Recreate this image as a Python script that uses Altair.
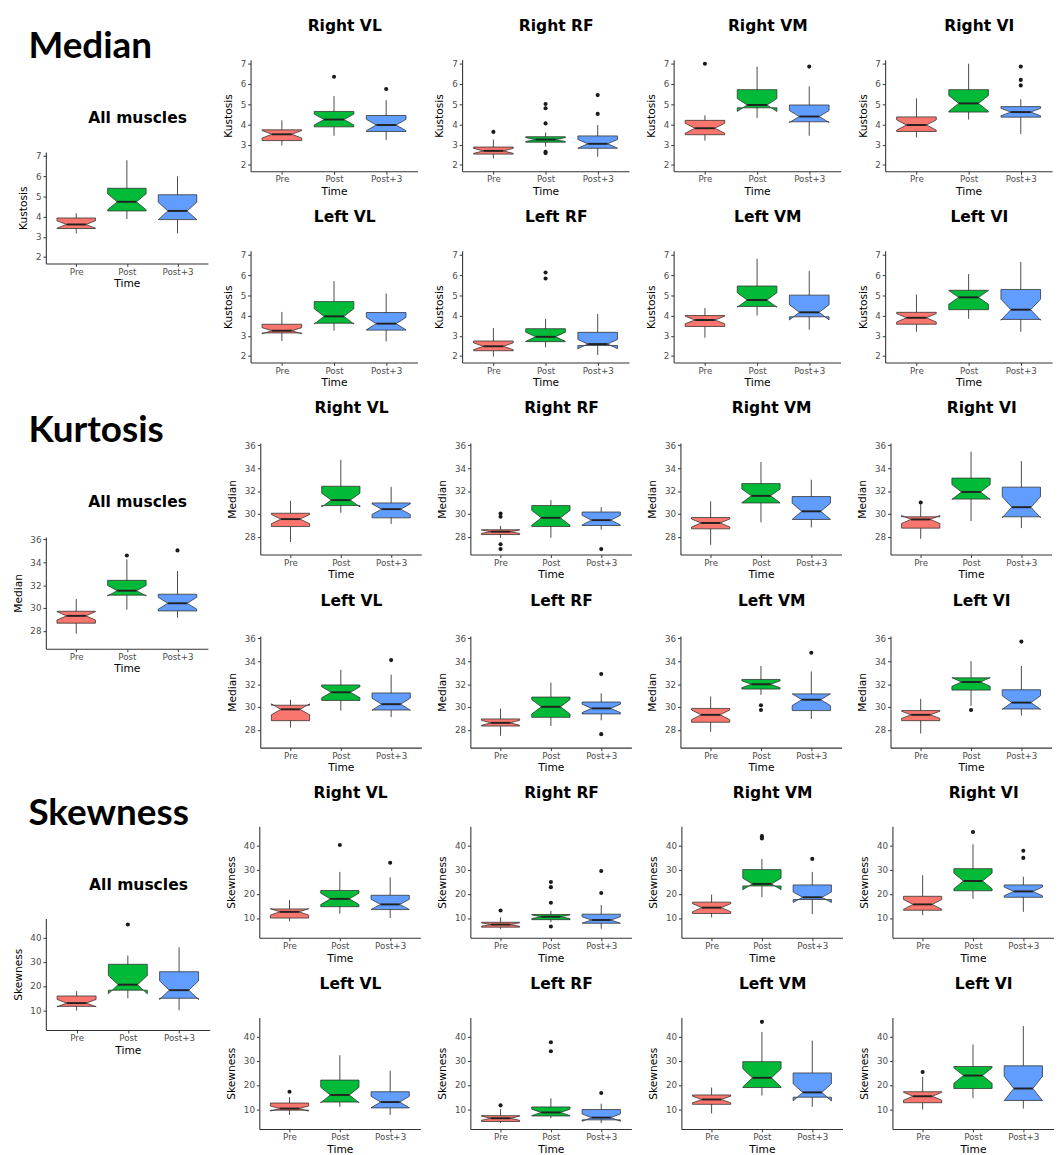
import math
import altair as alt
import pandas as pd

TIMES = ["Pre", "Post", "Post+3"]
FILLS = ["#F8766D", "#00BA38", "#619CFF"]
SECTIONS = ["Median", "Kurtosis", "Skewness"]
Y_TITLES = ["Kustosis", "Median", "Skewness"]
Y_TICKS = [[2, 3, 4, 5, 6, 7], [28, 30, 32, 34, 36], [10, 20, 30, 40]]
Y_DOMAINS = [[1.68, 7.2], [26.45, 36.2], [1.8, 48.0]]
PANELS = ["All muscles", "Right VL", "Right RF", "Right VM", "Right VI",
          "Left VL", "Left RF", "Left VM", "Left VI"]
N_OBS = 20  # observations per box, used for the notch (median +/- 1.58*IQR/sqrt(n))

# (lower whisker, Q1, median, Q3, upper whisker) for Pre, Post, Post+3
median_boxes = {
    "All muscles": [(3.17, 3.41, 3.61, 3.93, 4.17), (3.88, 4.28, 4.73, 5.40, 6.79), (3.17, 3.85, 4.28, 5.08, 5.99)],
    "Right VL": [(2.96, 3.20, 3.51, 3.73, 4.20), (3.44, 3.88, 4.24, 4.64, 5.40), (3.23, 3.65, 3.97, 4.44, 5.20)],
    "Right RF": [(2.32, 2.53, 2.69, 2.88, 3.25), (2.91, 3.12, 3.25, 3.39, 3.60), (2.40, 2.82, 3.04, 3.43, 3.97)],
    "Right VM": [(3.20, 3.49, 3.81, 4.20, 4.45), (4.32, 4.82, 4.96, 5.72, 6.86), (3.44, 4.13, 4.39, 4.96, 5.88)],
    "Right VI": [(3.36, 3.65, 3.97, 4.37, 5.29), (4.24, 4.61, 5.04, 5.72, 7.00), (3.52, 4.36, 4.61, 4.88, 5.24)],
    "Left VL": [(2.74, 3.14, 3.25, 3.57, 4.18), (3.25, 3.62, 3.96, 4.69, 5.70), (2.72, 3.28, 3.60, 4.15, 5.09)],
    "Left RF": [(1.97, 2.26, 2.48, 2.74, 3.38), (2.43, 2.71, 2.95, 3.35, 3.84), (2.05, 2.52, 2.59, 3.17, 4.08)],
    "Left VM": [(2.90, 3.46, 3.78, 4.00, 4.37), (4.00, 4.45, 4.77, 5.46, 6.81), (3.30, 3.94, 4.16, 5.01, 6.21)],
    "Left VI": [(3.20, 3.57, 3.89, 4.16, 5.04), (3.84, 4.29, 4.90, 5.25, 6.05), (3.20, 3.81, 4.29, 5.29, 6.65)],
}
median_outliers = {
    "Right VL": [[], [6.36], [5.75]],
    "Right RF": [[3.63], [5.01, 4.80, 4.05, 2.64, 2.58], [5.45, 4.52]],
    "Right VM": [[7.00], [], [6.86]],
    "Right VI": [[], [], [6.86, 6.20, 5.93]],
    "Left RF": [[], [6.13, 5.83], []],
}

kurtosis_boxes = {
    "All muscles": [(27.77, 28.68, 29.32, 29.72, 30.79), (29.86, 31.13, 31.52, 32.42, 34.25), (29.15, 29.75, 30.42, 31.21, 33.24)],
    "Right VL": [(27.55, 28.90, 29.55, 30.06, 31.15), (30.10, 30.73, 31.21, 32.42, 34.73), (29.13, 29.66, 30.42, 30.96, 32.37)],
    "Right RF": [(27.92, 28.20, 28.45, 28.62, 28.96), (27.92, 28.90, 29.66, 30.73, 31.21), (28.62, 28.99, 29.46, 30.17, 30.59)],
    "Right VM": [(27.30, 28.70, 29.21, 29.69, 31.10), (29.27, 30.96, 31.58, 32.65, 34.54), (28.82, 29.52, 30.23, 31.52, 32.99)],
    "Right VI": [(27.83, 28.76, 29.52, 29.75, 30.85), (29.38, 31.30, 31.92, 33.13, 35.44), (28.76, 29.75, 30.59, 32.34, 34.62)],
    "Left VL": [(28.20, 28.81, 29.80, 30.16, 30.64), (29.69, 30.58, 31.29, 31.93, 33.25), (29.12, 29.74, 30.25, 31.23, 32.83)],
    "Left RF": [(27.49, 28.34, 28.62, 28.96, 29.88), (28.34, 29.10, 30.02, 30.87, 32.13), (28.84, 29.40, 29.88, 30.44, 31.20)],
    "Left VM": [(27.83, 28.67, 29.32, 29.88, 30.92), (31.06, 31.57, 31.99, 32.41, 33.59), (28.96, 29.69, 30.64, 31.15, 33.11)],
    "Left VI": [(27.69, 28.81, 29.32, 29.69, 30.72), (30.10, 31.48, 32.19, 32.55, 34.01), (29.26, 29.83, 30.39, 31.51, 33.59)],
}
kurtosis_outliers = {
    "All muscles": [[], [34.59], [35.04]],
    "Right RF": [[30.03, 29.75, 27.35, 26.93], [], [26.93]],
    "Right VI": [[31.00], [], []],
    "Left VL": [[], [], [34.10]],
    "Left RF": [[], [], [32.89, 27.63]],
    "Left VM": [[], [30.16, 29.74], [34.74]],
    "Left VI": [[], [29.74], [35.72]],
}

skewness_boxes = {
    "All muscles": [(9.87, 11.60, 12.95, 15.89, 17.90), (14.96, 18.30, 20.58, 29.02, 32.63), (10.00, 14.96, 18.30, 25.94, 36.11)],
    "Right VL": [(8.65, 10.00, 12.56, 13.77, 17.40), (11.88, 14.70, 17.94, 21.40, 29.10), (10.00, 13.50, 15.65, 19.42, 26.82)],
    "Right RF": [(5.43, 6.23, 7.30, 8.25, 10.27), (8.25, 9.33, 10.54, 11.48, 12.96), (5.56, 7.85, 9.19, 11.60, 15.38)],
    "Right VM": [(10.27, 11.88, 14.30, 16.59, 19.69), (18.60, 23.30, 24.13, 30.05, 34.49), (11.61, 17.67, 18.60, 23.72, 29.10)],
    "Right VI": [(11.20, 13.23, 15.65, 19.00, 27.76), (17.94, 21.30, 25.34, 30.45, 40.54), (12.56, 18.60, 21.03, 23.72, 27.09)],
    "Left VL": [(7.59, 9.60, 10.27, 12.54, 14.96), (10.94, 12.95, 15.89, 22.05, 32.36), (7.59, 10.54, 12.95, 17.23, 25.94)],
    "Left RF": [(4.24, 4.91, 6.25, 7.32, 10.00), (6.25, 7.19, 8.66, 10.94, 14.55), (4.24, 5.58, 6.52, 9.87, 12.28)],
    "Left VM": [(8.26, 12.01, 14.02, 15.89, 18.97), (15.62, 18.97, 22.99, 29.69, 42.00), (10.94, 14.96, 16.96, 25.00, 38.39)],
    "Left VI": [(9.87, 12.68, 15.36, 17.23, 23.39), (14.55, 18.57, 23.93, 27.68, 36.78), (10.27, 13.62, 18.57, 27.95, 44.42)],
}
skewness_outliers = {
    "All muscles": [[], [45.50], []],
    "Right VL": [[], [40.27], [32.87]],
    "Right RF": [[13.10], [24.93, 22.78, 16.32, 6.50], [29.50, 20.36]],
    "Right VM": [[], [43.90, 42.96], [34.49]],
    "Right VI": [[], [45.65], [37.85, 34.89]],
    "Left VL": [[17.23], [], []],
    "Left RF": [[11.60], [37.72, 33.97], [16.70]],
    "Left VM": [[], [46.16], []],
    "Left VI": [[25.40], [], []],
}

ALL_BOXES = [median_boxes, kurtosis_boxes, skewness_boxes]
ALL_OUTLIERS = [median_outliers, kurtosis_outliers, skewness_outliers]

HALF_W = 0.38      # half box width (category units)
NOTCH_W = 0.5      # ggplot notchwidth
FONT = "DejaVu Sans"
LABEL_EXPR = "[" + ",".join("'%s'" % t for t in TIMES) + "][datum.value - 1]"


def build_frames(boxes, outliers):
    stats, poly, outs = [], [], []
    for i, (wl, q1, md, q3, wh) in enumerate(boxes):
        c = i + 1
        notch = 1.58 * (q3 - q1) / math.sqrt(N_OBS)
        nl, nh = md - notch, md + notch
        iw = HALF_W * NOTCH_W
        stats.append(dict(pos=c, wl=wl, wh=wh, med=md, mx1=c - iw, mx2=c + iw))
        pts = [(c - HALF_W, q3), (c - HALF_W, nh), (c - iw, md), (c - HALF_W, nl), (c - HALF_W, q1),
               (c + HALF_W, q1), (c + HALF_W, nl), (c + iw, md), (c + HALF_W, nh), (c + HALF_W, q3)]
        for k, (px, py) in enumerate(pts):
            poly.append(dict(pos=c, k=k, px=px, py=py))
        for v in outliers[i]:
            outs.append(dict(pos=c, val=v))
    return (pd.DataFrame(stats), pd.DataFrame(poly),
            pd.DataFrame(outs, columns=["pos", "val"]))


def panel(s, name, W, H):
    boxes = ALL_BOXES[s][name]
    outl = ALL_OUTLIERS[s].get(name, [[], [], []])
    stats, poly, outs = build_frames(boxes, outl)
    xs = alt.Scale(domain=[0.4, 3.6], nice=False, zero=False)
    ys = alt.Scale(domain=Y_DOMAINS[s], nice=False, zero=False)
    xa = alt.Axis(values=[1, 2, 3], labelExpr=LABEL_EXPR, title="Time", tickSize=3,
                  labelPadding=1, titlePadding=2, labelFlush=False)
    ya = alt.Axis(values=Y_TICKS[s], title=Y_TITLES[s], tickSize=3, labelPadding=2,
                  titlePadding=7, labelFlush=False)
    whisk = alt.Chart(stats).mark_rule(color="#333333", strokeWidth=0.9).encode(
        x=alt.X("pos:Q", scale=xs, axis=xa),
        y=alt.Y("wl:Q", scale=ys, axis=ya),
        y2="wh:Q",
    )
    layers = [whisk]
    for i in range(3):
        layers.append(
            alt.Chart(poly[poly["pos"] == i + 1]).mark_line(
                interpolate="linear-closed", fill=FILLS[i], stroke="#333333", strokeWidth=0.8
            ).encode(
                x=alt.X("px:Q", scale=xs, axis=xa),
                y=alt.Y("py:Q", scale=ys, axis=ya),
                order="k:Q",
            )
        )
    layers.append(
        alt.Chart(stats).mark_rule(color="#222222", strokeWidth=2).encode(
            x=alt.X("mx1:Q", scale=xs, axis=xa), x2="mx2:Q",
            y=alt.Y("med:Q", scale=ys, axis=ya),
        )
    )
    layers.append(
        alt.Chart(outs).mark_circle(color="#1a1a1a", size=18, opacity=1).encode(
            x=alt.X("pos:Q", scale=xs, axis=xa),
            y=alt.Y("val:Q", scale=ys, axis=ya),
        )
    )
    return alt.layer(*layers).properties(
        width=W, height=H,
        title=alt.TitleParams(name, font=FONT, fontSize=16, fontWeight="bold", color="black",
                              anchor="middle", frame="group", offset=26.5, dx=11),
    )


def section(s, W, WA, H, left_gap, col_gap):
    title_chart = alt.Chart(pd.DataFrame({"t": [SECTIONS[s]]})).mark_text(
        align="left", baseline="middle", font="Lato", fontSize=38, fontWeight="bold", color="black"
    ).encode(text="t:N", x=alt.value(-18), y=alt.value(-12.5)).properties(width=WA, height=45)
    left = alt.vconcat(title_chart, panel(s, "All muscles", WA, H), spacing=7)
    row1 = alt.hconcat(*[panel(s, p, W, H) for p in PANELS[1:5]], spacing=col_gap)
    row2 = alt.hconcat(*[panel(s, p, W, H) for p in PANELS[5:9]], spacing=col_gap)
    grid = alt.vconcat(row1, row2, spacing=13)
    return alt.hconcat(left, grid, spacing=left_gap)


chart = alt.vconcat(
    section(0, 172, 167, 115, 15, 17),
    section(1, 166, 167, 115, 19, 15.5),
    section(2, 166, 169, 115, 16, 16.5),
    spacing=12,
).properties(
    padding={"left": 4, "top": -7.5, "right": 0, "bottom": 0}
).configure_view(stroke=None).configure_axis(
    grid=False, domainColor="#333333", domainWidth=1.1, tickColor="#333333", tickWidth=1,
    labelColor="#4D4D4D", labelFont=FONT, labelFontSize=9, titleFont=FONT, titleFontSize=11,
    titleFontWeight="normal", titleColor="black", labelOverlap=False,
)

chart.save("out.html", embed_options={"renderer": "svg", "actions": False})
